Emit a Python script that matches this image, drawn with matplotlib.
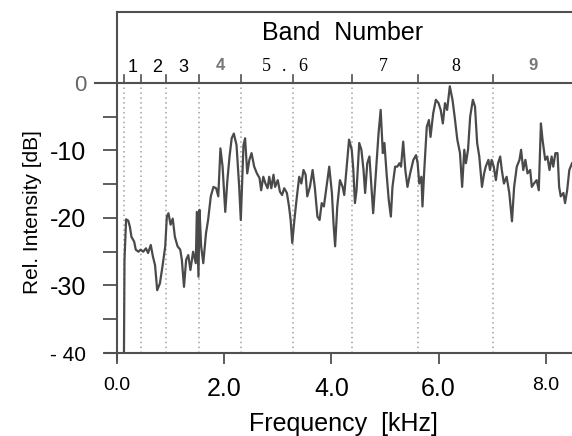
import matplotlib
matplotlib.use("Agg")
import matplotlib.pyplot as plt

# spectrum (kHz, dB)
freq = [0.13, 0.14, 0.17, 0.21, 0.24, 0.27, 0.32, 0.35, 0.40, 0.44, 0.49, 0.54, 0.58, 0.63, 0.67,
        0.71, 0.75, 0.80, 0.85, 0.90, 0.93, 0.96, 1.00, 1.04, 1.08, 1.13, 1.18, 1.21, 1.25, 1.29,
        1.33, 1.37, 1.42, 1.47, 1.49, 1.52, 1.54, 1.57, 1.61, 1.66, 1.70, 1.75, 1.80, 1.85, 1.89,
        1.93, 1.97, 2.02, 2.06, 2.10, 2.14, 2.18, 2.23, 2.28, 2.31, 2.36, 2.39, 2.43, 2.47, 2.51,
        2.56, 2.61, 2.66, 2.69, 2.73, 2.77, 2.81, 2.84, 2.88, 2.92, 2.95, 3.00, 3.04, 3.08, 3.12,
        3.17, 3.21, 3.24, 3.27, 3.31, 3.35, 3.40, 3.44, 3.48, 3.52, 3.55, 3.60, 3.65, 3.69, 3.74,
        3.78, 3.82, 3.86, 3.91, 3.96, 4.01, 4.04, 4.07, 4.11, 4.16, 4.21, 4.24, 4.28, 4.33, 4.38,
        4.41, 4.44, 4.47, 4.52, 4.56, 4.60, 4.63, 4.67, 4.71, 4.74, 4.78, 4.83, 4.88, 4.92, 4.96,
        4.99, 5.03, 5.07, 5.11, 5.14, 5.19, 5.23, 5.27, 5.30, 5.34, 5.38, 5.42, 5.47, 5.53, 5.58,
        5.61, 5.64, 5.68, 5.70, 5.73, 5.78, 5.82, 5.85, 5.90, 5.95, 6.00, 6.04, 6.08, 6.12, 6.16,
        6.21, 6.26, 6.30, 6.35, 6.40, 6.44, 6.48, 6.51, 6.55, 6.59, 6.64, 6.68, 6.72, 6.76, 6.81,
        6.85, 6.88, 6.93, 6.96, 6.99, 7.03, 7.07, 7.11, 7.15, 7.18, 7.22, 7.27, 7.32, 7.37, 7.41,
        7.46, 7.51, 7.54, 7.58, 7.62, 7.66, 7.71, 7.74, 7.78, 7.83, 7.87, 7.91, 7.94, 7.99, 8.03,
        8.07, 8.11, 8.14, 8.18, 8.22, 8.25, 8.28, 8.33, 8.36, 8.40, 8.44, 8.49]
level = [-40.0, -26.2, -20.2, -20.4, -21.3, -22.8, -23.5, -24.7, -25.0, -24.7, -25.0, -24.5, -25.2, -24.0, -25.7,
         -27.0, -30.7, -29.7, -27.1, -24.2, -19.8, -19.3, -21.0, -20.1, -22.8, -24.2, -24.7, -26.2, -30.2, -26.2,
         -25.5, -27.7, -25.0, -26.7, -19.1, -28.7, -18.8, -24.2, -26.7, -22.3, -20.3, -16.8, -15.4, -15.6, -16.8,
         -9.7, -12.4, -19.1, -14.4, -10.9, -8.2, -7.5, -9.2, -15.4, -20.3, -9.2, -8.2, -13.4, -11.4, -10.4,
         -12.4, -13.4, -14.1, -15.9, -13.9, -14.9, -15.6, -13.9, -15.6, -13.6, -15.4, -14.4, -16.1, -16.6, -15.6,
         -16.3, -18.3, -20.3, -23.7, -20.3, -17.3, -13.9, -14.9, -12.9, -13.6, -16.8, -15.4, -12.9, -15.4, -19.8,
         -20.3, -17.8, -18.3, -15.4, -12.4, -16.3, -20.8, -24.2, -18.3, -14.4, -15.4, -16.6, -12.9, -8.4, -9.9,
         -12.9, -17.8, -15.9, -8.9, -9.9, -12.9, -16.3, -11.9, -10.9, -14.4, -19.3, -13.4, -7.5, -4.0, -10.4,
         -8.9, -13.4, -17.3, -19.8, -15.4, -12.4, -12.4, -11.9, -12.4, -8.7, -12.9, -15.4, -13.4, -11.4, -10.7,
         -11.9, -14.9, -13.9, -18.3, -13.4, -6.5, -5.5, -8.0, -4.5, -2.5, -3.0, -4.0, -6.0, -3.0, -4.0,
         -0.5, -2.5, -5.0, -8.4, -10.4, -15.4, -9.9, -11.9, -9.9, -5.0, -2.5, -3.5, -8.9, -10.9, -15.4,
         -13.4, -12.4, -11.4, -12.9, -11.4, -12.4, -14.4, -11.9, -10.9, -12.9, -14.9, -13.9, -16.3, -20.5, -15.4,
         -12.4, -11.4, -9.9, -12.9, -11.4, -13.4, -12.9, -15.4, -14.9, -14.4, -15.9, -6.0, -8.4, -11.4, -10.9,
         -12.9, -10.9, -12.4, -10.4, -10.4, -15.4, -16.8, -16.3, -17.8, -15.9, -12.9, -11.9]

band_edges = [0.13, 0.45, 0.91, 1.53, 2.31, 3.28, 4.38, 5.62, 7.01]
band_names = ["1", "2", "3", "4", "5", ".", "6", "7", "8", "9"]
band_pos = [0.30, 0.75, 1.23, 1.92, 2.78, 3.12, 3.47, 4.96, 6.32, 7.76]

xticks = [0, 2, 4, 6, 8]
xlabels = ["0.0", "2.0", "4.0", "6.0", "8.0"]
yticks = [-40, -30, -20, -10, 0]
ylabels = ["- 40", "-30", "-20", "-10", "0"]

sans = "Liberation Sans"
serif = "Liberation Serif"
axc = "#505050"

fig = plt.figure(figsize=(5.72, 4.36), dpi=100)
ax = fig.add_axes([117 / 572, 83 / 436, 455 / 572, 341 / 436])
ax.set_xlim(0, 8.49)
ax.set_ylim(-40, 10.5)

for s in ["left", "top", "bottom"]:
    ax.spines[s].set_color(axc)
    ax.spines[s].set_linewidth(1.5)
ax.spines["right"].set_visible(False)

# dotted band boundaries
for e in band_edges:
    ax.plot([e, e], [-40, 0], color="#a0a0a0", lw=1.1, ls=(0, (1, 2.2)), zorder=1)
    ax.plot([e, e], [0, 1.1], color=axc, lw=1.2, zorder=2)

# 0 dB line reaching out to the left, extended frame lines
ax.plot([-0.41, 8.49], [0, 0], color=axc, lw=1.5, clip_on=False, zorder=2)
ax.plot([-0.22, 0], [-40, -40], color=axc, lw=1.5, clip_on=False)
ax.plot([0, 0], [-41.1, -40], color=axc, lw=1.5, clip_on=False)

ax.plot(freq, level, color="#4a4a4a", lw=1.6, zorder=3)

ax.set_xticks(xticks)
ax.set_xticklabels(xlabels, fontfamily=sans)
xsizes = [14, 18, 18, 18, 14]
for lbl, fs in zip(ax.get_xticklabels(), xsizes):
    lbl.set_fontsize(fs)
ax.tick_params(axis="x", direction="out", length=8, width=1.3, color=axc, pad=9)

ax.set_yticks(yticks)
ax.set_yticklabels(ylabels, fontfamily=sans)
ysizes = [15, 18, 18, 18, 16]
for lbl, fs in zip(ax.get_yticklabels(), ysizes):
    lbl.set_fontsize(fs)
ax.get_yticklabels()[-1].set_color("#666666")
ax.set_yticks([-35, -25, -15, -5], minor=True)
ax.tick_params(axis="y", which="both", direction="out", length=10, width=1.3, color=axc, pad=12)

for name, x in zip(band_names, band_pos):
    if name in ["1", "2", "3"]:
        ax.text(x, 2.3, name, ha="center", va="center", fontsize=13, fontfamily=sans)
    elif name in ["4", "9"]:
        ax.text(x, 2.6, name, ha="center", va="center", fontsize=12, fontfamily=sans,
                fontweight="bold", color="#777777")
    else:
        ax.text(x, 2.5, name, ha="center", va="center", fontsize=13, fontfamily=serif)

ax.text(4.2, 7.4, "Band  Number", ha="center", va="center", fontsize=18, fontfamily=sans)

fig.text(343 / 572, 1 - 424 / 436, "Frequency  [kHz]", ha="center", va="center",
         fontsize=18, fontfamily=sans)
fig.text(33 / 572, 1 - 212 / 436, "Rel. Intensity [dB]", ha="center", va="center",
         rotation=90, fontsize=15, fontfamily=sans)

fig.savefig("out.png", dpi=100)
